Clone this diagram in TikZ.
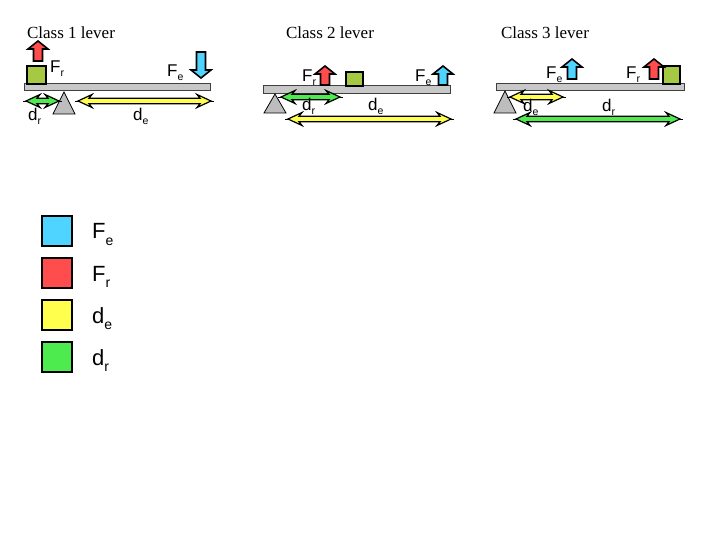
\documentclass[tikz,border=0pt]{standalone}
\usepackage{fontspec}
\setmainfont{Liberation Serif}
\newfontfamily\arialfont{Liberation Sans}
\definecolor{cblue}{HTML}{4FD4FF}
\definecolor{cred}{HTML}{FF4D4D}
\definecolor{cyel}{HTML}{FFFF4D}
\definecolor{cgreen}{HTML}{4DEB4D}
\definecolor{cbox}{HTML}{A6C944}
\definecolor{cbeam}{HTML}{C8C8C8}
\definecolor{cful}{HTML}{BDBDBD}
\newcommand\lsub[1]{\raisebox{-4pt}{\fontsize{10.5}{10.5}\selectfont #1}}
\newcommand\gsub[1]{\raisebox{-6pt}{\fontsize{14}{14}\selectfont #1}}
% double arrow: x1, x2, y, colour
\newcommand\dblarr[4]{%
  \draw[black, line width=0.8] (#1,#3) -- (#2,#3);
  \filldraw[fill=#4, draw=black, line width=1.2]
    (#1+3,#3) -- (#1+17,#3-6.5) -- (#1+14,#3-2.8) -- (#2-14,#3-2.8) -- (#2-17,#3-6.5)
    -- (#2-3,#3) -- (#2-17,#3+6.5) -- (#2-14,#3+2.8) -- (#1+14,#3+2.8) -- (#1+17,#3+6.5) -- cycle;}
% block arrow: centre x, base y, tip y, colour
\newcommand\blkarr[4]{%
  \filldraw[fill=#4, draw=black, line width=1.6]
    (#1-4.5,#2) -- (#1-4.5,{#3+(#2-#3)/abs(#2-#3)*8}) -- (#1-10,{#3+(#2-#3)/abs(#2-#3)*8}) -- (#1,#3)
    -- (#1+10,{#3+(#2-#3)/abs(#2-#3)*8}) -- (#1+4.5,{#3+(#2-#3)/abs(#2-#3)*8}) -- (#1+4.5,#2) -- cycle;}
\newcommand\fulcrum[3]{% apex x, apex y, base y
  \filldraw[fill=cful, draw=black, line width=0.8] (#1,#2) -- (#1-11,#3) -- (#1+11,#3) -- cycle;}
\tikzset{
  title/.style={font=\fontsize{17}{17}\selectfont, anchor=base},
  lbl/.style={font=\arialfont\fontsize{17}{17}\selectfont, anchor=base west, inner sep=0pt},
  glbl/.style={font=\arialfont\fontsize{22}{22}\selectfont, anchor=base west, inner sep=0pt},
  beam/.style={fill=cbeam, draw=black!75, line width=1},
  load/.style={fill=cbox, draw=black, line width=1.1},
  key/.style={draw=black, line width=2}
}
\begin{document}
\begin{tikzpicture}[x=1pt,y=-1pt]
\useasboundingbox (0,0) rectangle (720,540);
% ---------- Class 1 ----------
\node[title] (t1) at (71,39) {Class 1 lever};
\filldraw[beam] (24,84) rectangle (210,91);
\filldraw[load] (27,66) rectangle (46,84);
\blkarr{38}{61}{41}{cred}
\blkarr{201}{52}{78}{cblue}
\fulcrum{64}{92}{114}
\dblarr{23}{62}{101}{cgreen}
\dblarr{75}{214}{101}{cyel}
\node[lbl] (fr1) at (50,73) {F\lsub{r}};
\node[lbl] (fe1) at (167,77) {F\lsub{e}};
\node[lbl] (dr1) at (28,121) {d\lsub{r}};
\node[lbl] (de1) at (133,121) {d\lsub{e}};
% ---------- Class 2 ----------
\node[title] (t2) at (330,39) {Class 2 lever};
\filldraw[beam] (263,86) rectangle (450,94);
\filldraw[load] (346,72) rectangle (363,86);
\blkarr{325}{85}{66}{cred}
\blkarr{443}{85}{66}{cblue}
\fulcrum{275}{94}{113}
\dblarr{278}{343}{97}{cgreen}
\dblarr{285}{454}{119}{cyel}
\node[lbl] (fr2) at (302,82) {F\lsub{r}};
\node[lbl] (fe2) at (415,82) {F\lsub{e}};
\node[lbl] (dr2) at (302,111) {d\lsub{r}};
\node[lbl] (de2) at (368,111) {d\lsub{e}};
% ---------- Class 3 ----------
\node[title] (t3) at (545,39) {Class 3 lever};
\filldraw[beam] (496,84) rectangle (684,91);
\filldraw[load] (663,66) rectangle (680,84);
\blkarr{572}{79}{59}{cblue}
\blkarr{654}{79}{59}{cred}
\fulcrum{505}{91}{113}
\dblarr{507}{566}{97}{cyel}
\dblarr{513}{683}{119}{cgreen}
\node[lbl] (fe3) at (546,79) {F\lsub{e}};
\node[lbl] (fr3) at (626,79) {F\lsub{r}};
\node[lbl] (de3) at (523,112) {d\lsub{e}};
\node[lbl] (dr3) at (602,112) {d\lsub{r}};
% ---------- Legend ----------
\filldraw[key, fill=cblue] (42,216) rectangle (72,246);
\filldraw[key, fill=cred] (42,258) rectangle (72,288);
\filldraw[key, fill=cyel] (42,300) rectangle (72,330);
\filldraw[key, fill=cgreen] (42,342) rectangle (72,372);
\node[glbl] (lfe) at (92,239) {F\gsub{e}};
\node[glbl] (lfr) at (92,281) {F\gsub{r}};
\node[glbl] (lde) at (92,323) {d\gsub{e}};
\node[glbl] (ldr) at (92,365) {d\gsub{r}};
\end{tikzpicture}
\end{document}
